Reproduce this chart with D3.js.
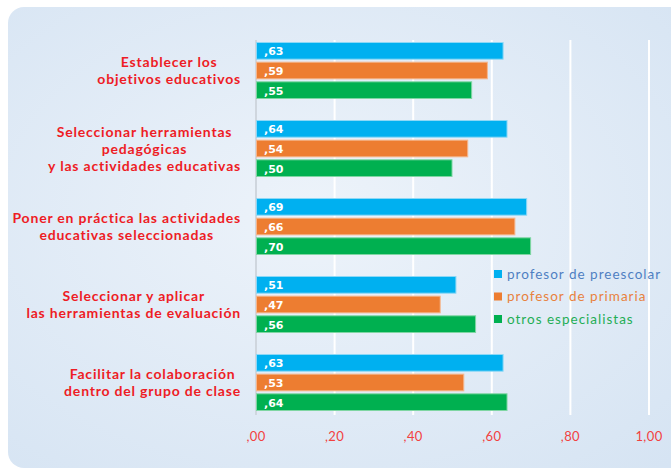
<!DOCTYPE html>
<html><head><meta charset="utf-8">
<script src="https://cdn.jsdelivr.net/npm/d3@7"></script>
<style>html,body{margin:0;padding:0;background:#fff;}svg{display:block;}</style>
</head><body>
<svg id="chart" width="671" height="470"></svg>
<script>
const categories = [
  ["Establecer los", "objetivos educativos"],
  ["Seleccionar herramientas", "pedagógicas", "y las actividades educativas"],
  ["Poner en práctica las actividades", "educativas seleccionadas"],
  ["Seleccionar y aplicar", "las herramientas de evaluación"],
  ["Facilitar la colaboración", "dentro del grupo de clase"]
];
const seriesNames = ["profesor de preescolar", "profesor de primaria", "otros especialistas"];
const preescolar = [0.63, 0.64, 0.69, 0.51, 0.63];
const primaria   = [0.59, 0.54, 0.66, 0.47, 0.53];
const otros      = [0.55, 0.50, 0.70, 0.56, 0.64];
const tickValues = [0, 0.2, 0.4, 0.6, 0.8, 1.0];

const colors = ["#00b0f0", "#ed7d31", "#00b050"];
const strokes = ["#8dd8f6", "#f5b78f", "#7fd6a3"];
const legendText = ["#4f7fc2", "#e8823e", "#1fae55"];
const series = [preescolar, primaria, otros];

const svg = d3.select("#chart");
const defs = svg.append("defs");
const grad = defs.append("radialGradient").attr("id","bg").attr("cx","45%").attr("cy","45%").attr("r","75%");
grad.append("stop").attr("offset","0%").attr("stop-color","#edf3fa");
grad.append("stop").attr("offset","100%").attr("stop-color","#d6e4f3");

svg.append("rect").attr("x",8).attr("y",7).attr("width",680).attr("height",461)
  .attr("rx",16).attr("fill","url(#bg)");

const x = d3.scaleLinear().domain([0,1]).range([256,649]);
const y0 = d3.scaleBand().domain(d3.range(categories.length)).range([31.5,421.5]);
const y1 = d3.scaleBand().domain(d3.range(3)).range([y0.bandwidth()/2 - 28.5, y0.bandwidth()/2 + 28.5]).paddingInner(0.1);

const fmt = v => { const s = d3.format(".2f")(v).replace(".", ","); return s.startsWith("0") ? s.slice(1) : s; };

// gridlines
svg.append("g").selectAll("line").data(tickValues.slice(1)).join("line")
  .attr("x1", d=>x(d)).attr("x2", d=>x(d)).attr("y1",40).attr("y2",415)
  .attr("stroke","#ffffff").attr("stroke-width",2);
svg.append("line").attr("x1",x(0)).attr("x2",x(0)).attr("y1",40).attr("y2",415)
  .attr("stroke","#cfd6de").attr("stroke-width",2);

// tick labels
svg.append("g").selectAll("text").data(tickValues).join("text")
  .attr("x", d=>x(d)).attr("y",441).attr("text-anchor","middle")
  .attr("font-family","Lato, 'Liberation Sans', sans-serif").attr("font-size",13)
  .attr("letter-spacing",0.4)
  .attr("fill","#f2413f").text(d=>fmt(d));

// bars
const groups = svg.append("g").selectAll("g").data(categories).join("g")
  .attr("transform", (d,i)=>`translate(0,${y0(i)})`);
groups.each(function(cat, i){
  const g = d3.select(this);
  series.forEach((s, k) => {
    g.append("rect").attr("x", x(0)+0.5).attr("y", y1(k)+0.5)
      .attr("width", x(s[i]) - x(0) - 1).attr("height", y1.bandwidth()-1)
      .attr("fill", colors[k]).attr("stroke", strokes[k]).attr("stroke-width",1);
    g.append("text").attr("x", x(0)+8).attr("y", y1(k)+y1.bandwidth()/2+4.5)
      .attr("font-family","'DejaVu Sans', sans-serif").attr("font-weight","bold").attr("font-size",11)
      .attr("fill","#ffffff").text(fmt(s[i]));
  });
  // category label
  const n = cat.length, lh = 17;
  const t = g.append("text").attr("font-family","Lato, 'Liberation Sans', sans-serif")
    .attr("font-weight","bold").attr("font-size",14).attr("letter-spacing",0.8)
    .attr("fill","#ee1c25").attr("text-anchor","middle");
  const cy = y0.bandwidth()/2;
  const tspans = cat.map((line, j) => t.append("tspan").attr("y", cy + (j - (n-1)/2)*lh + 5).text(line));
  let maxW = 0;
  tspans.forEach(ts => { maxW = Math.max(maxW, ts.node().getComputedTextLength()); });
  const cx = 241 - maxW/2;
  tspans.forEach(ts => ts.attr("x", cx));
});

// legend
const leg = svg.append("g");
seriesNames.forEach((name, k) => {
  const ly = 274 + k*22.5;
  leg.append("rect").attr("x",494).attr("y",ly-4).attr("width",8).attr("height",8).attr("fill",colors[k]);
  leg.append("text").attr("x",507).attr("y",ly+4.5)
    .attr("font-family","Lato, 'Liberation Sans', sans-serif").attr("font-size",13.5)
    .attr("letter-spacing",1.0).attr("fill",legendText[k]).text(name);
});
</script>
</body></html>
